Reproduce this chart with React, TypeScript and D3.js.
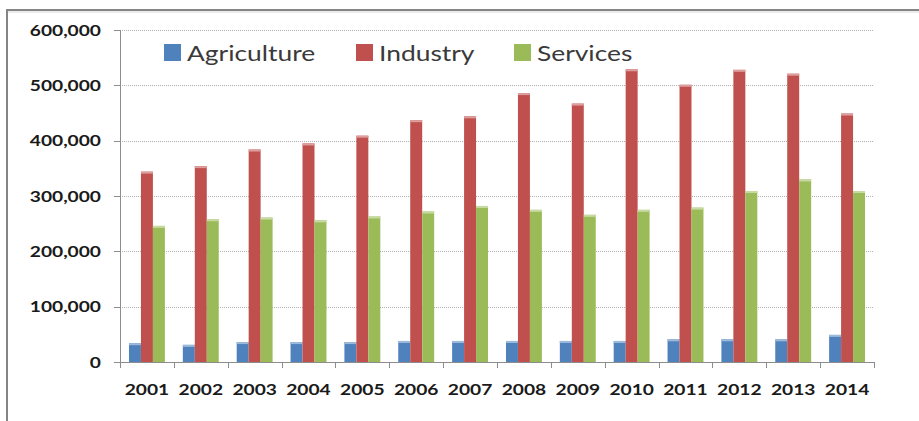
import React from "react";
import * as d3 from "d3";

const years = ["2001","2002","2003","2004","2005","2006","2007","2008","2009","2010","2011","2012","2013","2014"];
const agriculture = [34000,31000,36000,36000,36000,38000,38000,38000,38000,38000,41000,41000,41000,49000];
const industry = [344000,354000,384000,395000,409000,437000,444000,486000,467000,529000,501000,528000,521000,449000];
const services = [246000,258000,261000,256000,263000,272000,282000,275000,266000,275000,279000,309000,330000,309000];
const seriesNames = ["Agriculture","Industry","Services"];
const seriesColors = ["#4F81BD","#C0504D","#9BBB59"];
const yTicks = [0,100000,200000,300000,400000,500000,600000];

const W = 919, H = 421;
const left = 120, right = 874, top = 30, bottom = 362;
const SX = 1.2;

export default function App() {
  const x = d3.scaleBand<string>().domain(years).range([left, right]).padding(0);
  const y = d3.scaleLinear().domain([0, 600000]).range([bottom, top]);
  const bw = x.bandwidth() / 4.5;
  const off = bw * 0.75;
  const series = [agriculture, industry, services];
  const fmt = d3.format(",");
  const font = "Lato, 'Open Sans', sans-serif";
  const lighten = (c: string) => d3.interpolateRgb(c, "#ffffff")(0.45);

  const legendX = [164, 356, 514];

  return (
    <svg width={W} height={H} style={{ position: "absolute", left: 0, top: 0, background: "#fff" }}>
      {/* outer frame */}
      <rect x={7} y={10} width={W + 20} height={H + 20} fill="none" stroke="#858585" strokeWidth={2} />
      <line x1={8} x2={W} y1={12} y2={12} stroke="#d8d8d8" strokeWidth={1} />

      {/* gridlines */}
      {yTicks.filter(t => t > 0).map(t => (
        <line key={"g" + t} x1={left} x2={right} y1={Math.round(y(t)) + 0.5} y2={Math.round(y(t)) + 0.5}
          stroke="#b0b0b0" strokeWidth={1} strokeDasharray="1 1" />
      ))}

      {/* bars */}
      {years.map((yr, i) => (
        <g key={yr}>
          {series.map((s, k) => {
            const bx = (x(yr) as number) + off + k * bw;
            const by = y(s[i]);
            return (
              <g key={k}>
                <rect x={bx} y={by} width={bw} height={bottom - by} fill={seriesColors[k]} />
                <rect x={bx} y={by} width={bw} height={2} fill={lighten(seriesColors[k])} />
              </g>
            );
          })}
        </g>
      ))}

      {/* y axis */}
      <line x1={left + 0.5} x2={left + 0.5} y1={top} y2={bottom} stroke="#8c8c8c" strokeWidth={1} />
      {yTicks.map(t => (
        <g key={"yt" + t}>
          <line x1={left - 6} x2={left} y1={Math.round(y(t)) + 0.5} y2={Math.round(y(t)) + 0.5} stroke="#8c8c8c" />
          <text transform={`translate(101,${y(t) + 5.5}) scale(${SX},1)`} textAnchor="end"
            fontFamily={font} fontWeight={700} fontSize={16} fill="#1a1a1a">{fmt(t)}</text>
        </g>
      ))}

      {/* x axis */}
      <line x1={left} x2={right + 1} y1={bottom + 0.5} y2={bottom + 0.5} stroke="#8c8c8c" strokeWidth={1} />
      {[...years.map(yr => x(yr) as number), right].map((px, i) => (
        <line key={"xt" + i} x1={Math.round(px) + 0.5} x2={Math.round(px) + 0.5} y1={bottom} y2={bottom + 6} stroke="#8c8c8c" />
      ))}
      {years.map(yr => (
        <text key={"xl" + yr} transform={`translate(${(x(yr) as number) + x.bandwidth() / 2},395) scale(${SX},1)`}
          textAnchor="middle" fontFamily={font} fontWeight={700} fontSize={16} fill="#1a1a1a">{yr}</text>
      ))}

      {/* legend */}
      {seriesNames.map((n, k) => (
        <g key={n}>
          <rect x={legendX[k]} y={44} width={17} height={17} fill={seriesColors[k]} />
          <text transform={`translate(${legendX[k] + 23},61) scale(1.2,1)`} fontFamily={font}
            fontSize={22} fill="#3a3a3a">{n}</text>
        </g>
      ))}
    </svg>
  );
}
